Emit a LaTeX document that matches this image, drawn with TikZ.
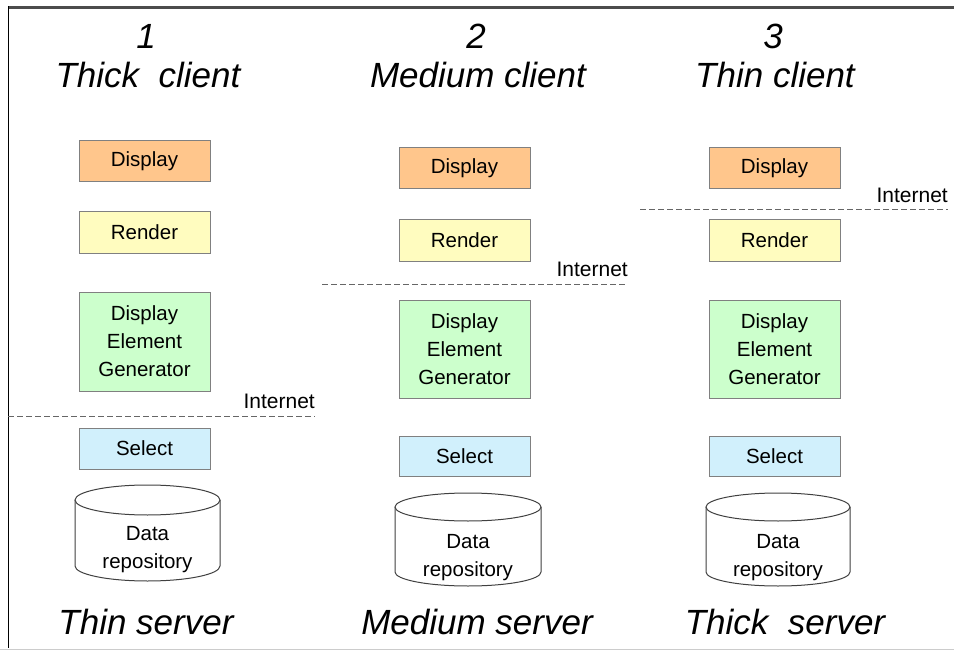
\documentclass[tikz,border=0pt]{standalone}
\usepackage{fontspec}
\setmainfont{Liberation Sans}
\begin{document}
\begin{tikzpicture}[x=1pt,y=-1pt,
  box/.style={draw=black!50, line width=1pt, minimum width=131pt, inner sep=0pt, align=center,
    font=\fontsize{20.5}{28}\selectfont},
  dispbox/.style={box, fill=orange!45!white, minimum height=41pt},
  rendbox/.style={box, fill=yellow!25!white, minimum height=41pt},
  genbox/.style={box, fill=green!20!white, minimum height=99pt},
  selbox/.style={box, fill=cyan!18!white, minimum height=41pt},
  title/.style={font=\fontsize{35}{40}\selectfont\itshape, inner sep=0pt},
  netline/.style={draw=black!60, dashed, dash pattern=on 6pt off 3pt, line width=1pt},
  netlabel/.style={font=\fontsize{21}{24}\selectfont, inner sep=0pt, anchor=south east},
  repo/.style={draw=black!75, line width=1pt, fill=white},
  repotext/.style={font=\fontsize{20.5}{28}\selectfont, align=center, inner sep=0pt}
]
\useasboundingbox (0,0) rectangle (954,650);
% frame
\draw[draw=black!70, line width=2.5pt] (8,7.5) -- (954,7.5);
\draw[draw=black, line width=1.5pt] (8.5,6.5) -- (8.5,648);
\draw[draw=black!20, line width=1pt] (0,649) -- (954,649);

% column 1
\node[title] (n1) at (146,36) {1};
\node[title] (t1) at (148,75) {Thick\ \ client};
\node[dispbox] (d1) at (144.5,161.5) {Display};
\node[rendbox] (r1) at (144.5,232.5) {Render};
\node[genbox] (g1) at (144.5,341.5) {Display\\Element\\Generator};
\node[selbox] (s1) at (144.5,448.5) {Select};
\coordinate (l1a) at (8,416);
\coordinate (l1b) at (315,416);
\draw[netline] (l1a) -- (l1b);
\node[netlabel] (i1) at (315,409) {Internet};
\draw[repo] (75,500) -- (75,566) arc[start angle=180,end angle=0,x radius=72.5,y radius=15] -- (220,500);
\draw[repo] (147.5,500) ellipse[x radius=72.5,y radius=15];
\node[repotext] (p1) at (147.5,550) {Data\\repository};
\node[title] (b1) at (146,622) {Thin server};

% column 2
\node[title] (n2) at (476,36) {2};
\node[title] (t2) at (478,75) {Medium client};
\node[dispbox] (d2) at (464.5,168.5) {Display};
\node[rendbox] (r2) at (464.5,240.5) {Render};
\coordinate (l2a) at (322,284);
\coordinate (l2b) at (625,284);
\draw[netline] (l2a) -- (l2b);
\node[netlabel] (i2) at (628,277) {Internet};
\node[genbox, minimum height=98pt] (g2) at (464.5,349) {Display\\Element\\Generator};
\node[selbox, minimum height=40pt] (s2) at (464.5,456) {Select};
\draw[repo] (395,507) -- (395,572) arc[start angle=180,end angle=0,x radius=73,y radius=14] -- (541,507);
\draw[repo] (468,507) ellipse[x radius=73,y radius=14];
\node[repotext] (p2) at (468,558) {Data\\repository};
\node[title] (b2) at (477,622) {Medium server};

% column 3
\node[title] (n3) at (773,36) {3};
\node[title] (t3) at (775,75) {Thin client};
\node[dispbox] (d3) at (774.5,168.5) {Display};
\coordinate (l3a) at (640,210);
\coordinate (l3b) at (948,210);
\draw[netline] (l3a) -- (l3b);
\node[netlabel] (i3) at (948,203) {Internet};
\node[rendbox] (r3) at (774.5,240.5) {Render};
\node[genbox, minimum height=98pt] (g3) at (774.5,349) {Display\\Element\\Generator};
\node[selbox, minimum height=40pt] (s3) at (774.5,456) {Select};
\draw[repo] (706,507) -- (706,572) arc[start angle=180,end angle=0,x radius=72,y radius=14] -- (850,507);
\draw[repo] (778,507) ellipse[x radius=72,y radius=14];
\node[repotext] (p3) at (778,558) {Data\\repository};
\node[title] (b3) at (785,622) {Thick\ \ server};
\end{tikzpicture}
\end{document}
